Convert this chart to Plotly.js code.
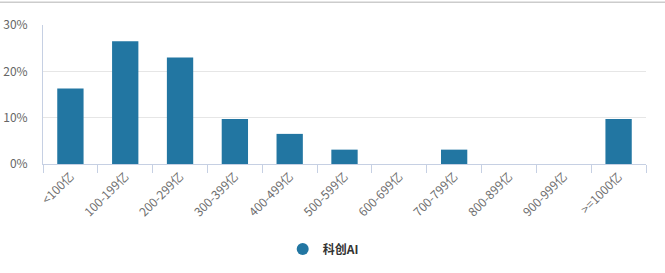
<!DOCTYPE html>
<html><head><meta charset="utf-8">
<script src="https://cdn.plot.ly/plotly-3.0.1.min.js"></script>
<style>html,body{margin:0;padding:0;background:#fff;}#chart{width:665px;height:273px;}</style>
</head><body><div id="chart"></div>
<script>
var categories = ['<100亿','100-199亿','200-299亿','300-399亿','400-499亿','500-599亿','600-699亿','700-799亿','800-899亿','900-999亿','>=1000亿'];
var values = [16.3, 26.5, 23.0, 9.7, 6.5, 3.1, 0, 3.1, 0, 0, 9.7];
var seriesName = '科创AI';
var yTicks = [0, 10, 20, 30];
var yTickLabels = ['0%', '10%', '20%', '30%'];

var color = '#2276a2';
var font = 'Noto Sans CJK SC, sans-serif';

var traces = [
  {type:'bar', x:categories, y:values, marker:{color:color}, showlegend:false, hoverinfo:'x+y'},
  {type:'scatter', mode:'markers', x:[null], y:[null], name:seriesName, marker:{color:color, size:12, symbol:'circle'}}
];

var layout = {
  width:665, height:273,
  margin:{l:43, r:19, t:24.5, b:109},
  paper_bgcolor:'#fff', plot_bgcolor:'#fff',
  bargap:0.52,
  font:{family:font, size:12, color:'#666'},
  xaxis:{type:'category', tickangle:-45, tickson:'boundaries', ticks:'outside', ticklen:8, tickcolor:'#c6d0e3',
         showline:true, linecolor:'#c6d0e3', linewidth:1, showgrid:false, zeroline:false, automargin:false,
         tickfont:{family:font, size:12, color:'#6e6e6e'}, fixedrange:true},
  yaxis:{range:[0,30], tickvals:yTicks, ticktext:yTickLabels, showgrid:true, gridcolor:'#e6e6e6',
         showline:true, linecolor:'#c6d0e3', linewidth:1, zeroline:false, ticks:'', ticklabelstandoff:12, automargin:false,
         tickfont:{family:font, size:12, color:'#666'}, fixedrange:true},
  showlegend:true,
  legend:{orientation:'h', xref:'container', x:0.486, xanchor:'center', yref:'container', y:0.088, yanchor:'middle',
          font:{family:font, size:12, color:'#333', weight:'bold'}, itemsizing:'trace'},
  shapes:[{type:'line', xref:'paper', yref:'paper', x0:-0.08, x1:1.05, y0:1.163, y1:1.163, line:{color:'#cccccc', width:1.5}}]
};
Plotly.newPlot('chart', traces, layout, {displayModeBar:false, staticPlot:true});
</script></body></html>
